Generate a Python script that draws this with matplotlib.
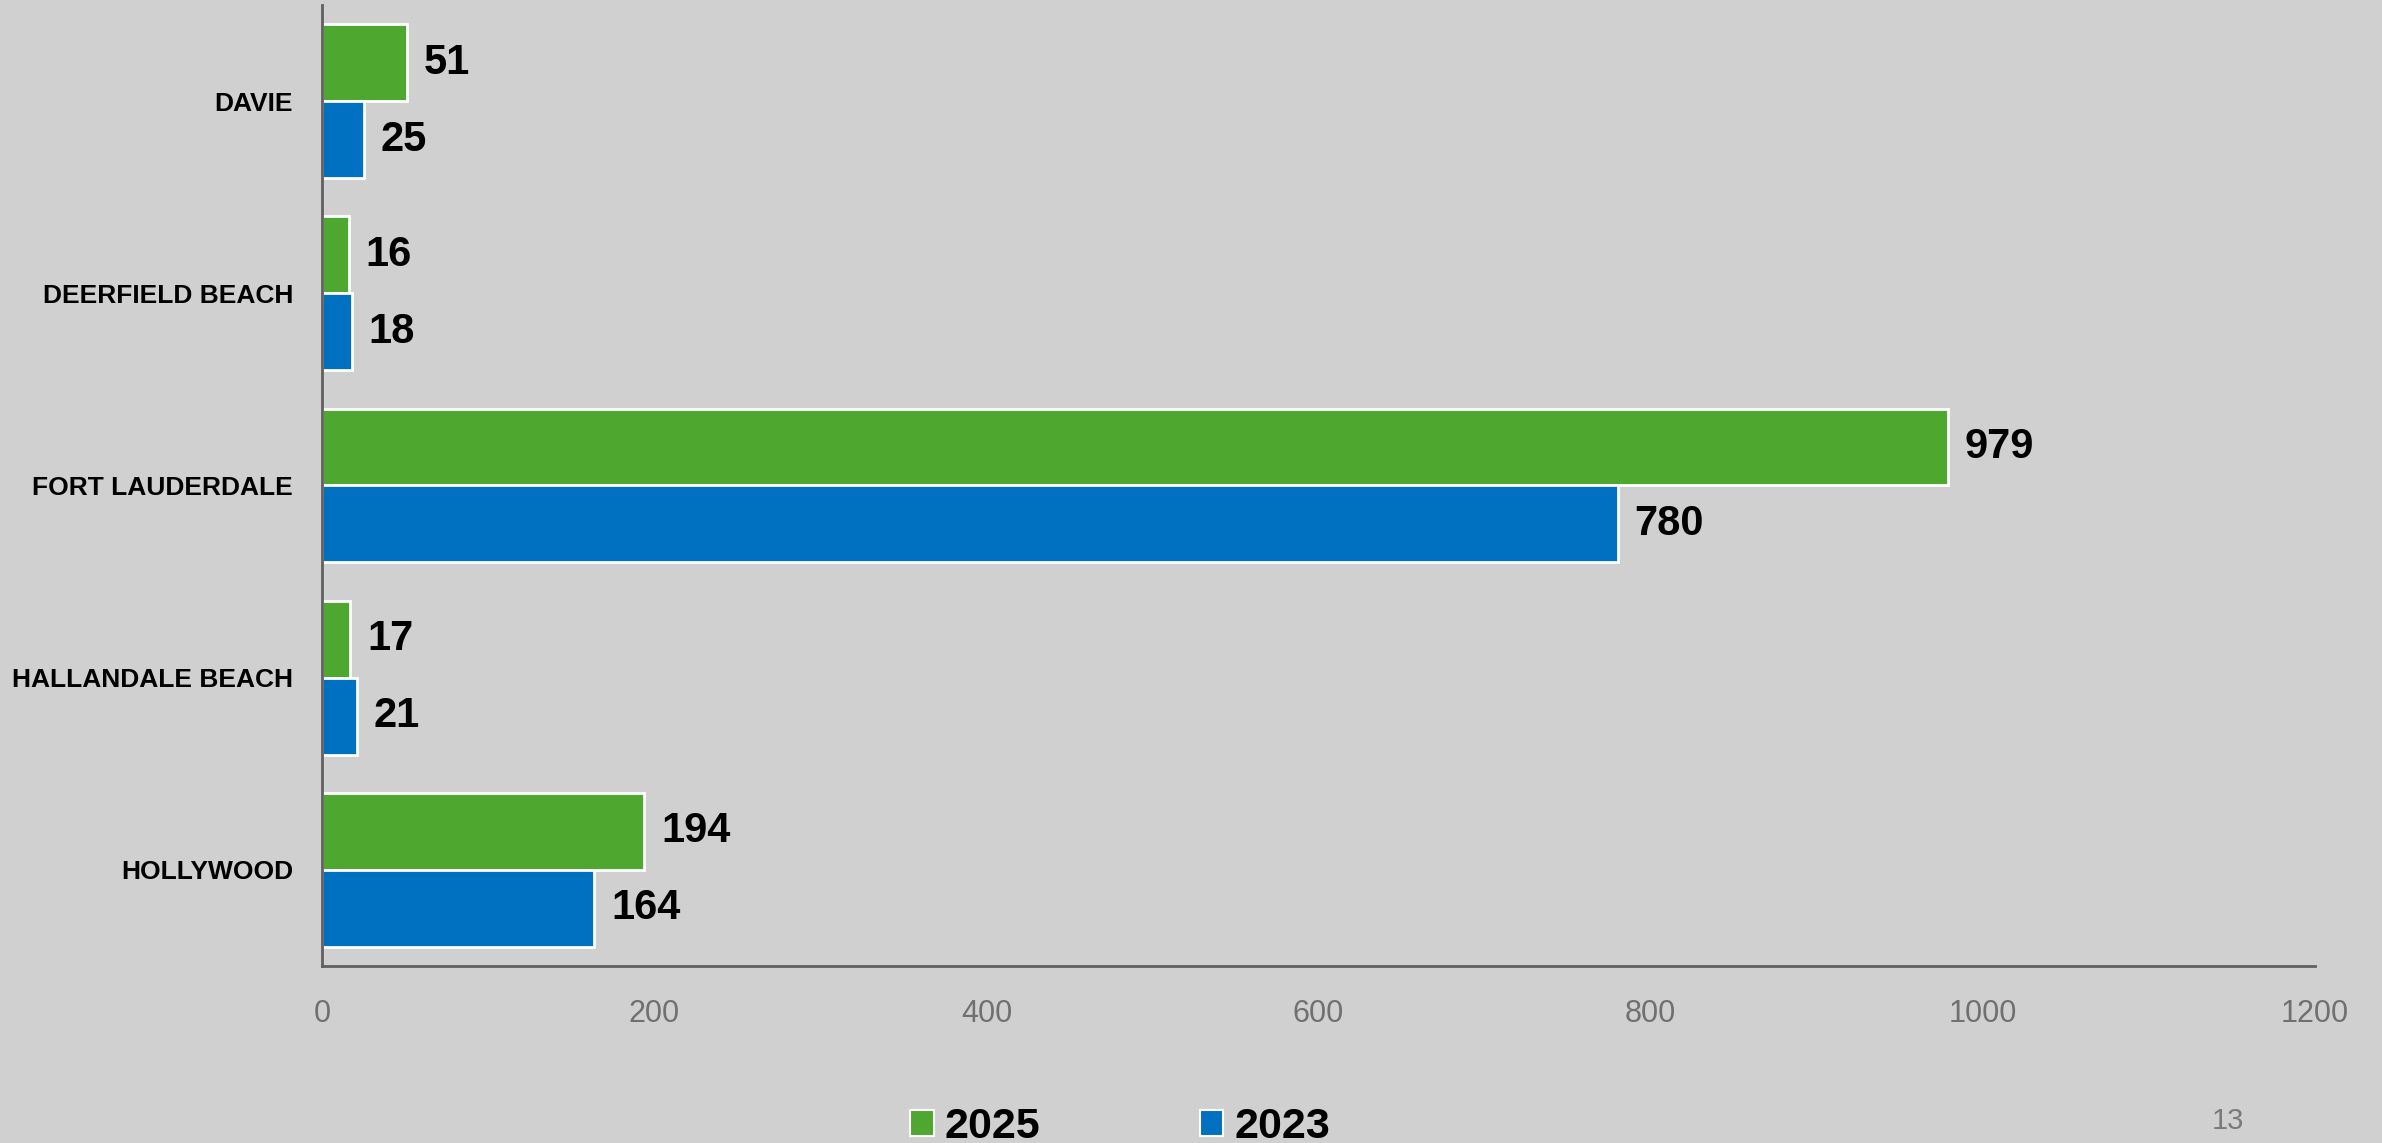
import matplotlib.pyplot as plt
from matplotlib.patches import Patch
import numpy as np

cities = ["DAVIE", "DEERFIELD BEACH", "FORT LAUDERDALE", "HALLANDALE BEACH", "HOLLYWOOD"]
vals_2025 = [51, 16, 979, 17, 194]
vals_2023 = [25, 18, 780, 21, 164]
series_names = ["2025", "2023"]
xticks = [0, 200, 400, 600, 800, 1000, 1200]

bg = "#d0d0d0"
green = "#4ea72e"
blue = "#0070c0"

plt.rcParams['font.family'] = ['Liberation Sans', 'DejaVu Sans']

fig = plt.figure(figsize=(23.82, 11.43), dpi=100, facecolor=bg)
ax = fig.add_axes([0.1352, 0.1549, 0.9719 - 0.1352, 0.9956 - 0.1549])
ax.set_facecolor(bg)

y = np.arange(len(cities))
h = 0.4
b1 = ax.barh(y - h / 2, vals_2025, height=h, color=green, edgecolor="white", linewidth=2)
b2 = ax.barh(y + h / 2, vals_2023, height=h, color=blue, edgecolor="white", linewidth=2)

# value labels just right of each bar
for bars, vals in ((b1, vals_2025), (b2, vals_2023)):
    for bar, v in zip(bars, vals):
        ax.annotate(str(v), (v, bar.get_y() + bar.get_height() / 2),
                    xytext=(12, 0), textcoords="offset points", ha="left", va="center",
                    fontsize=30, fontweight="bold", color="black")

ax.set_ylim(len(cities) - 0.5, -0.5)
ax.set_xlim(0, 1200)
ax.set_yticks(y)
ax.set_yticklabels(cities, fontsize=19, fontweight="bold")
ax.set_xticks(xticks)
ax.set_xticklabels([str(t) for t in xticks], fontsize=22, color="#707070")
ax.tick_params(axis="both", length=0)
ax.tick_params(axis="y", pad=21)
ax.tick_params(axis="x", pad=24)

for s in ("top", "right"):
    ax.spines[s].set_visible(False)
for s in ("left", "bottom"):
    ax.spines[s].set_color("#606060")
    ax.spines[s].set_linewidth(2)

handles = [Patch(facecolor=green, edgecolor="white", linewidth=1.5),
           Patch(facecolor=blue, edgecolor="white", linewidth=1.5)]
leg = fig.legend(handles, series_names, loc="center", bbox_to_anchor=(1120 / 2382, 0.014),
                 ncol=2, frameon=False, handlelength=0.55, handleheight=0.55,
                 handletextpad=0.25, columnspacing=3.7,
                 prop={"size": 31, "weight": "bold"})

fig.text(2228 / 2382, 1 - 1121 / 1143, "13", fontsize=21, color="#7a7a7a", ha="center", va="center")

fig.savefig("out.png", dpi=100, facecolor=bg)
